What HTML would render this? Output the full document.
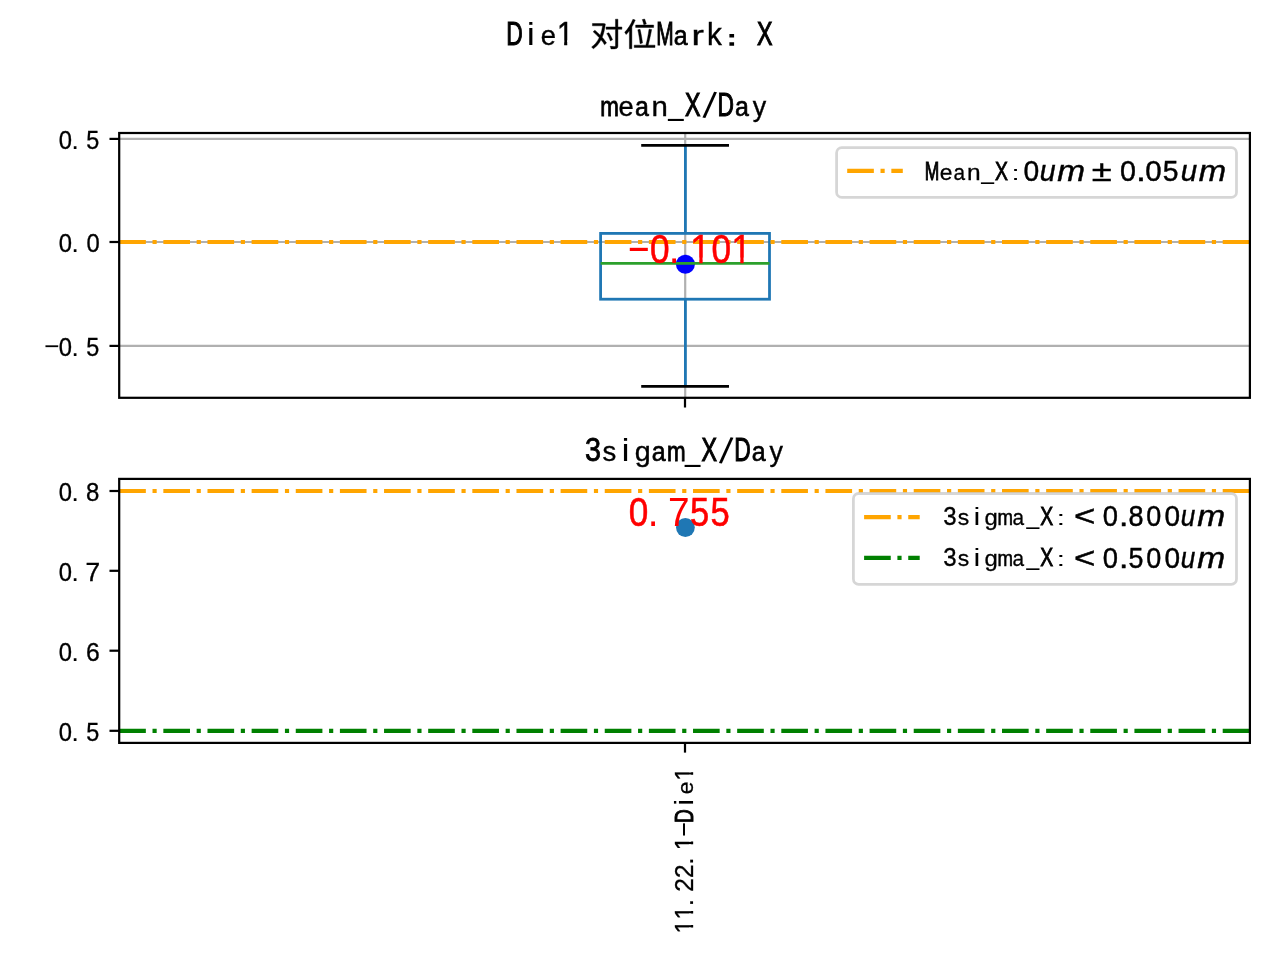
<!DOCTYPE html>
<html lang="zh">
<head>
<meta charset="utf-8">
<title>Die1 对位Mark：X</title>
<style>
html,body{margin:0;padding:0;background:#fff;}
body{width:1280px;height:960px;overflow:hidden;font-family:"Liberation Sans",sans-serif;}
svg{display:block;will-change:transform;}
</style>
</head>
<body>
<svg width="1280" height="960" viewBox="0 0 1280 960">
<rect x="0" y="0" width="1280" height="960" fill="#fff"/>
<defs><clipPath id="nofoot"><path clip-rule="evenodd" d="M0 0H1280V960H0ZM557.61 40.16H564.17V46.4H557.61ZM567.21 40.16H573.55V46.4H567.21ZM688.95 927.46H694.7V933.21H688.95ZM688.95 919.39H694.7V924.94H688.95ZM688.95 913.58H694.7V919.32H688.95ZM688.95 905.5H694.7V911.06H688.95ZM688.95 844.13H694.7V849.88H688.95ZM688.95 836.06H694.7V841.61H688.95ZM688.95 774.69H694.7V780.43H688.95ZM688.95 766.61H694.7V772.17H688.95ZM691.39 257.47H699.32V264.3H691.39ZM702.61 257.47H710.26V264.3H702.61ZM732.39 257.47H740.32V264.3H732.39ZM743.61 257.47H751.26V264.3H743.61Z"/></clipPath></defs>
<g stroke="#b0b0b0" stroke-width="2.22" fill="none">
<line x1="119.2" y1="138.9" x2="1249.9" y2="138.9"/>
<line x1="119.2" y1="242.0" x2="1249.9" y2="242.0"/>
<line x1="119.2" y1="345.9" x2="1249.9" y2="345.9"/>
<line x1="685.2" y1="133.0" x2="685.2" y2="397.8"/>
</g>
<circle cx="685.4" cy="264.3" r="9.5" fill="#00f"/>
<g fill="none" stroke-width="2.78">
<path stroke="#1f77b4" d="M685.4 233.4V145.4M685.4 299.2V386.4"/>
<rect stroke="#1f77b4" x="600.6" y="233.4" width="168.9" height="65.8"/>
<path stroke="#000" stroke-linecap="square" d="M642.6 145.4H727.6M642.6 386.4H727.6"/>
<path stroke="#2ca02c" d="M600.6 263.4H769.5"/>
</g>
<line x1="119.2" y1="242.0" x2="1249.9" y2="242.0" stroke="#ffa500" stroke-width="4.17" stroke-dasharray="26.65 6.66 4.17 6.66"/>
<rect x="119.2" y="133.0" width="1130.7" height="264.8" fill="none" stroke="#000" stroke-width="2.22"/>
<g stroke="#000" stroke-width="2.22">
<line x1="109.48" y1="138.9" x2="119.2" y2="138.9"/>
<line x1="109.48" y1="242.0" x2="119.2" y2="242.0"/>
<line x1="109.48" y1="345.9" x2="119.2" y2="345.9"/>
<line x1="685.0" y1="397.8" x2="685.0" y2="407.52"/>
</g>
<circle cx="685.4" cy="527.5" r="9.4" fill="#1f77b4"/>
<line x1="119.2" y1="491.0" x2="1249.9" y2="491.0" stroke="#ffa500" stroke-width="4.17" stroke-dasharray="26.65 6.66 4.17 6.66"/>
<line x1="119.2" y1="730.9" x2="1249.9" y2="730.9" stroke="#008000" stroke-width="4.17" stroke-dasharray="26.65 6.66 4.17 6.66"/>
<rect x="119.2" y="478.9" width="1130.7" height="264" fill="none" stroke="#000" stroke-width="2.22"/>
<g stroke="#000" stroke-width="2.22">
<line x1="109.48" y1="491.0" x2="119.2" y2="491.0"/>
<line x1="109.48" y1="570.8" x2="119.2" y2="570.8"/>
<line x1="109.48" y1="650.7" x2="119.2" y2="650.7"/>
<line x1="109.48" y1="730.8" x2="119.2" y2="730.8"/>
<line x1="685.0" y1="742.9" x2="685.0" y2="752.62"/>
</g>
<rect x="836.6" y="147.6" width="399.9" height="49.8" rx="5.2" ry="5.2" fill="#fff" fill-opacity="0.8" stroke="#ccc" stroke-opacity="0.8" stroke-width="2.78"/>
<line x1="847.2" y1="170.8" x2="902.8" y2="170.8" stroke="#ffa500" stroke-width="4.17" stroke-dasharray="26.65 6.66 4.17 6.66"/>
<rect x="853.4" y="493.5" width="383.1" height="90.8" rx="5.2" ry="5.2" fill="#fff" fill-opacity="0.8" stroke="#ccc" stroke-opacity="0.8" stroke-width="2.78"/>
<line x1="864.1" y1="517.1" x2="919.7" y2="517.1" stroke="#ffa500" stroke-width="4.17" stroke-dasharray="26.65 6.66 4.17 6.66"/>
<line x1="864.1" y1="557.9" x2="919.7" y2="557.9" stroke="#008000" stroke-width="4.17" stroke-dasharray="26.65 6.66 4.17 6.66"/>
<g font-family="'Liberation Sans', sans-serif" stroke-width="0" clip-path="url(#nofoot)">
<text fill="#000" stroke="#000"><tspan x="506.33" y="44.8" textLength="16.46" lengthAdjust="spacingAndGlyphs" font-size="32.7" stroke-width="1.13">D</tspan><tspan x="527.08" y="44.8" textLength="7.58" lengthAdjust="spacingAndGlyphs" font-size="31.42" stroke-width="0.14">i</tspan><tspan x="540.7" y="44.8" textLength="15.21" lengthAdjust="spacingAndGlyphs" font-size="28.4" stroke-width="0.37">e</tspan><tspan x="556.96" y="44.8" textLength="16.43" lengthAdjust="spacingAndGlyphs" font-size="32.7" stroke-width="0.43">1</tspan></text>
<g fill="#000" stroke="#000" stroke-width="13" stroke-linejoin="round"><path transform="matrix(0.03315 0 0 -0.03232 590.108 46.347)" d="M502 394C549 323 594 228 610 168L676 201C660 261 612 353 563 422ZM91 453C152 398 217 333 275 267C215 139 136 42 45 -17C63 -32 86 -60 98 -78C190 -12 268 80 329 203C374 147 411 94 435 49L495 104C466 156 419 218 364 281C410 396 443 533 460 695L411 709L398 706H70V635H378C363 527 339 430 307 344C254 399 198 453 144 500ZM765 840V599H482V527H765V22C765 4 758 -1 741 -2C724 -2 668 -3 605 0C615 -23 626 -58 630 -79C715 -79 766 -77 796 -64C827 -51 839 -28 839 22V527H959V599H839V840Z"/><path transform="matrix(0.03304 0 0 -0.03216 623.444 46.241)" d="M369 658V585H914V658ZM435 509C465 370 495 185 503 80L577 102C567 204 536 384 503 525ZM570 828C589 778 609 712 617 669L692 691C682 734 660 797 641 847ZM326 34V-38H955V34H748C785 168 826 365 853 519L774 532C756 382 716 169 678 34ZM286 836C230 684 136 534 38 437C51 420 73 381 81 363C115 398 148 439 180 484V-78H255V601C294 669 329 742 357 815Z"/></g>
<text fill="#000" stroke="#000"><tspan x="656.19" y="44.8" textLength="17.43" lengthAdjust="spacingAndGlyphs" font-size="32.7" stroke-width="1.13">M</tspan><tspan x="673.81" y="44.8" textLength="13.89" lengthAdjust="spacingAndGlyphs" font-size="28.4" stroke-width="0.68">a</tspan><tspan x="691.47" y="44.8" textLength="12.39" lengthAdjust="spacingAndGlyphs" font-size="28.4" stroke-width="0.37">r</tspan><tspan x="707.1" y="44.8" textLength="14.86" lengthAdjust="spacingAndGlyphs" font-size="31.42" stroke-width="0.41">k</tspan></text>
<path d="M729.4 34h4.7v3.6h-4.7zM729.4 42.2h4.7v3.6h-4.7z" fill="#000"/>
<text fill="#000" stroke="#000"><tspan x="757.02" y="44.8" textLength="15.51" lengthAdjust="spacingAndGlyphs" font-size="32.7" stroke-width="1.13">X</tspan></text>
<text fill="#000" stroke="#000"><tspan x="600.28" y="115.5" textLength="18.63" lengthAdjust="spacingAndGlyphs" font-size="28.14" stroke-width="0.89">m</tspan><tspan x="618.6" y="115.5" textLength="15.21" lengthAdjust="spacingAndGlyphs" font-size="28.14" stroke-width="0.37">e</tspan><tspan x="635.04" y="115.5" textLength="13.89" lengthAdjust="spacingAndGlyphs" font-size="28.14" stroke-width="0.65">a</tspan><tspan x="651.41" y="115.5" textLength="16.36" lengthAdjust="spacingAndGlyphs" font-size="28.14" stroke-width="0.37">n</tspan><tspan x="668.35" y="114.33" textLength="15.28" lengthAdjust="spacingAndGlyphs" font-size="32.41">_</tspan><tspan x="684.91" y="115.5" textLength="15.51" lengthAdjust="spacingAndGlyphs" font-size="32.41" stroke-width="1.13">X</tspan><tspan x="702.41" y="117.18" rotate="9" font-size="37.24">/</tspan><tspan x="717.56" y="115.5" textLength="16.46" lengthAdjust="spacingAndGlyphs" font-size="32.41" stroke-width="1.13">D</tspan><tspan x="735.04" y="115.5" textLength="13.89" lengthAdjust="spacingAndGlyphs" font-size="28.14" stroke-width="0.65">a</tspan><tspan x="752.86" y="115.5" textLength="13.45" lengthAdjust="spacingAndGlyphs" font-size="28.14" stroke-width="0.37">y</tspan></text>
<text fill="#000" stroke="#000"><tspan x="585" y="461.1" textLength="16.03" lengthAdjust="spacingAndGlyphs" font-size="32.7" stroke-width="0.78">3</tspan><tspan x="602.5" y="461.1" textLength="13.76" lengthAdjust="spacingAndGlyphs" font-size="28.4" stroke-width="0.37">s</tspan><tspan x="621.65" y="461.1" textLength="7.58" lengthAdjust="spacingAndGlyphs" font-size="31.42" stroke-width="0.14">i</tspan><tspan x="634.73" y="461.1" textLength="15.95" lengthAdjust="spacingAndGlyphs" font-size="28.4" stroke-width="0.37">g</tspan><tspan x="651.7" y="461.1" textLength="13.89" lengthAdjust="spacingAndGlyphs" font-size="28.4" stroke-width="0.68">a</tspan><tspan x="666.95" y="461.1" textLength="18.63" lengthAdjust="spacingAndGlyphs" font-size="28.4" stroke-width="0.92">m</tspan><tspan x="685.01" y="459.93" textLength="15.28" lengthAdjust="spacingAndGlyphs" font-size="32.7">_</tspan><tspan x="701.57" y="461.1" textLength="15.51" lengthAdjust="spacingAndGlyphs" font-size="32.7" stroke-width="1.13">X</tspan><tspan x="719.07" y="462.78" rotate="9" font-size="37.24">/</tspan><tspan x="734.23" y="461.1" textLength="16.46" lengthAdjust="spacingAndGlyphs" font-size="32.7" stroke-width="1.13">D</tspan><tspan x="751.7" y="461.1" textLength="13.89" lengthAdjust="spacingAndGlyphs" font-size="28.4" stroke-width="0.68">a</tspan><tspan x="769.53" y="461.1" textLength="13.45" lengthAdjust="spacingAndGlyphs" font-size="28.4" stroke-width="0.37">y</tspan></text>
<text fill="#000" stroke="#000"><tspan x="58.84" y="148.7" textLength="13.25" lengthAdjust="spacingAndGlyphs" font-size="25.73" stroke-width="0.34">0</tspan><tspan x="71.62" y="148.7" textLength="7.29" lengthAdjust="spacingAndGlyphs" font-size="25.73" stroke-width="0.12">.</tspan><tspan x="86.36" y="148.7" textLength="13.03" lengthAdjust="spacingAndGlyphs" font-size="25.73" stroke-width="0.34">5</tspan></text>
<text fill="#000" stroke="#000"><tspan x="58.84" y="251.8" textLength="13.25" lengthAdjust="spacingAndGlyphs" font-size="25.73" stroke-width="0.34">0</tspan><tspan x="71.62" y="251.8" textLength="7.29" lengthAdjust="spacingAndGlyphs" font-size="25.73" stroke-width="0.12">.</tspan><tspan x="86.62" y="251.8" textLength="13.25" lengthAdjust="spacingAndGlyphs" font-size="25.73" stroke-width="0.34">0</tspan></text>
<text fill="#000" stroke="#000"><tspan x="44" y="354.87" textLength="15.36" lengthAdjust="spacingAndGlyphs" font-size="25.73">−</tspan><tspan x="58.84" y="355.7" textLength="13.25" lengthAdjust="spacingAndGlyphs" font-size="25.73" stroke-width="0.34">0</tspan><tspan x="71.62" y="355.7" textLength="7.29" lengthAdjust="spacingAndGlyphs" font-size="25.73" stroke-width="0.12">.</tspan><tspan x="86.36" y="355.7" textLength="13.03" lengthAdjust="spacingAndGlyphs" font-size="25.73" stroke-width="0.34">5</tspan></text>
<text fill="#000" stroke="#000"><tspan x="58.84" y="500.8" textLength="13.25" lengthAdjust="spacingAndGlyphs" font-size="25.73" stroke-width="0.34">0</tspan><tspan x="71.62" y="500.8" textLength="7.29" lengthAdjust="spacingAndGlyphs" font-size="25.73" stroke-width="0.12">.</tspan><tspan x="86.12" y="500.8" textLength="13.33" lengthAdjust="spacingAndGlyphs" font-size="25.73" stroke-width="0.34">8</tspan></text>
<text fill="#000" stroke="#000"><tspan x="58.84" y="580.6" textLength="13.25" lengthAdjust="spacingAndGlyphs" font-size="25.73" stroke-width="0.34">0</tspan><tspan x="71.62" y="580.6" textLength="7.29" lengthAdjust="spacingAndGlyphs" font-size="25.73" stroke-width="0.12">.</tspan><tspan x="85.4" y="580.6" textLength="14.61" lengthAdjust="spacingAndGlyphs" font-size="25.73" stroke-width="0.34">7</tspan></text>
<text fill="#000" stroke="#000"><tspan x="58.84" y="660.5" textLength="13.25" lengthAdjust="spacingAndGlyphs" font-size="25.73" stroke-width="0.34">0</tspan><tspan x="71.62" y="660.5" textLength="7.29" lengthAdjust="spacingAndGlyphs" font-size="25.73" stroke-width="0.12">.</tspan><tspan x="86.05" y="660.5" textLength="13.73" lengthAdjust="spacingAndGlyphs" font-size="25.73" stroke-width="0.34">6</tspan></text>
<text fill="#000" stroke="#000"><tspan x="58.84" y="740.6" textLength="13.25" lengthAdjust="spacingAndGlyphs" font-size="25.73" stroke-width="0.34">0</tspan><tspan x="71.62" y="740.6" textLength="7.29" lengthAdjust="spacingAndGlyphs" font-size="25.73" stroke-width="0.12">.</tspan><tspan x="86.36" y="740.6" textLength="13.03" lengthAdjust="spacingAndGlyphs" font-size="25.73" stroke-width="0.34">5</tspan></text>
<g transform="translate(693.1 933.7) rotate(-90)"><text fill="#000" stroke="#000"><tspan x="0.21" y="0" textLength="13.7" lengthAdjust="spacingAndGlyphs" font-size="26.16" stroke-width="0.34">1</tspan><tspan x="14.1" y="0" textLength="13.7" lengthAdjust="spacingAndGlyphs" font-size="26.16" stroke-width="0.34">1</tspan><tspan x="27.38" y="0" textLength="7.29" lengthAdjust="spacingAndGlyphs" font-size="26.16" stroke-width="0.12">.</tspan><tspan x="41.83" y="0" textLength="13.56" lengthAdjust="spacingAndGlyphs" font-size="26.16" stroke-width="0.34">2</tspan><tspan x="55.72" y="0" textLength="13.56" lengthAdjust="spacingAndGlyphs" font-size="26.16" stroke-width="0.34">2</tspan><tspan x="69.05" y="0" textLength="7.29" lengthAdjust="spacingAndGlyphs" font-size="26.16" stroke-width="0.12">.</tspan><tspan x="83.55" y="0" textLength="13.7" lengthAdjust="spacingAndGlyphs" font-size="26.16" stroke-width="0.34">1</tspan><tspan x="95.94" y="-2.17" textLength="16.67" lengthAdjust="spacingAndGlyphs" font-size="26.16">-</tspan><tspan x="110.8" y="0" textLength="13.72" lengthAdjust="spacingAndGlyphs" font-size="26.16" stroke-width="0.99">D</tspan><tspan x="128.1" y="0" textLength="6.32" lengthAdjust="spacingAndGlyphs" font-size="25.14" stroke-width="0.12">i</tspan><tspan x="139.45" y="0" textLength="12.68" lengthAdjust="spacingAndGlyphs" font-size="22.72" stroke-width="0.3">e</tspan><tspan x="152.99" y="0" textLength="13.7" lengthAdjust="spacingAndGlyphs" font-size="26.16" stroke-width="0.34">1</tspan></text></g>
<text fill="#000" stroke="#000"><tspan x="924.87" y="179.6" textLength="14.53" lengthAdjust="spacingAndGlyphs" font-size="25.58" stroke-width="1.04">M</tspan><tspan x="939.75" y="179.6" textLength="12.68" lengthAdjust="spacingAndGlyphs" font-size="22.21" stroke-width="0.29">e</tspan><tspan x="953.44" y="179.6" textLength="11.58" lengthAdjust="spacingAndGlyphs" font-size="22.21" stroke-width="0.29">a</tspan><tspan x="967.09" y="179.6" textLength="13.64" lengthAdjust="spacingAndGlyphs" font-size="22.21" stroke-width="0.29">n</tspan><tspan x="981.2" y="178.63" textLength="12.73" lengthAdjust="spacingAndGlyphs" font-size="25.58">_</tspan><tspan x="995" y="179.6" textLength="12.93" lengthAdjust="spacingAndGlyphs" font-size="25.58" stroke-width="0.89">X</tspan><tspan x="1011.53" y="179.6" textLength="8.11" lengthAdjust="spacingAndGlyphs" font-size="20.98" stroke-width="0.1">:</tspan></text>
<text fill="#000" stroke="#000" stroke-width="0.45"><tspan x="1023.5" y="180.6" textLength="15.71" lengthAdjust="spacingAndGlyphs" font-size="29.51">0</tspan><tspan x="1039.7" y="180.6" textLength="15.87" lengthAdjust="spacingAndGlyphs" font-size="29.34" font-style="italic">u</tspan><tspan x="1057.25" y="180.6" textLength="27.8" lengthAdjust="spacingAndGlyphs" font-size="29.34" font-style="italic">m</tspan><tspan x="1091.84" y="180.6" textLength="19.99" lengthAdjust="spacingAndGlyphs" font-size="29.51">±</tspan><tspan x="1119.88" y="180.6" textLength="15.94" lengthAdjust="spacingAndGlyphs" font-size="29.51">0</tspan><tspan x="1136.14" y="180.6" textLength="9.92" lengthAdjust="spacingAndGlyphs" font-size="29.51">.</tspan><tspan x="1145.35" y="180.6" textLength="16.4" lengthAdjust="spacingAndGlyphs" font-size="29.51">0</tspan><tspan x="1162.87" y="180.6" textLength="15.72" lengthAdjust="spacingAndGlyphs" font-size="29.51">5</tspan><tspan x="1180.76" y="180.6" textLength="16.43" lengthAdjust="spacingAndGlyphs" font-size="29.34" font-style="italic">u</tspan><tspan x="1198.85" y="180.6" textLength="27.37" lengthAdjust="spacingAndGlyphs" font-size="29.34" font-style="italic">m</tspan></text>
<text fill="#000" stroke="#000"><tspan x="943.14" y="525.2" textLength="13.36" lengthAdjust="spacingAndGlyphs" font-size="25.58" stroke-width="0.34">3</tspan><tspan x="957.72" y="525.2" textLength="11.47" lengthAdjust="spacingAndGlyphs" font-size="22.21" stroke-width="0.29">s</tspan><tspan x="973.68" y="525.2" textLength="6.32" lengthAdjust="spacingAndGlyphs" font-size="24.58" stroke-width="0.11">i</tspan><tspan x="984.57" y="525.2" textLength="13.29" lengthAdjust="spacingAndGlyphs" font-size="22.21" stroke-width="0.29">g</tspan><tspan x="997.54" y="525.2" textLength="15.52" lengthAdjust="spacingAndGlyphs" font-size="22.21" stroke-width="0.61">m</tspan><tspan x="1012.61" y="525.2" textLength="11.58" lengthAdjust="spacingAndGlyphs" font-size="22.21" stroke-width="0.29">a</tspan><tspan x="1026.48" y="524.23" textLength="12.73" lengthAdjust="spacingAndGlyphs" font-size="25.58">_</tspan><tspan x="1040.28" y="525.2" textLength="12.93" lengthAdjust="spacingAndGlyphs" font-size="25.58" stroke-width="0.89">X</tspan><tspan x="1056.8" y="525.2" textLength="8.11" lengthAdjust="spacingAndGlyphs" font-size="20.98" stroke-width="0.1">:</tspan></text>
<text fill="#000" stroke="#000" stroke-width="0.45"><tspan x="1073.99" y="526.4" textLength="21.4" lengthAdjust="spacingAndGlyphs" font-size="29.51">&lt;</tspan><tspan x="1102.83" y="526.4" textLength="15.24" lengthAdjust="spacingAndGlyphs" font-size="29.51">0</tspan><tspan x="1119.13" y="526.4" textLength="9.34" lengthAdjust="spacingAndGlyphs" font-size="29.51">.</tspan><tspan x="1128.42" y="526.4" textLength="15.05" lengthAdjust="spacingAndGlyphs" font-size="29.51">8</tspan><tspan x="1146.35" y="526.4" textLength="15.01" lengthAdjust="spacingAndGlyphs" font-size="29.51">0</tspan><tspan x="1164.41" y="526.4" textLength="15.59" lengthAdjust="spacingAndGlyphs" font-size="29.51">0</tspan><tspan x="1180.7" y="526.4" textLength="14.52" lengthAdjust="spacingAndGlyphs" font-size="29.34" font-style="italic">u</tspan><tspan x="1197.24" y="526.4" textLength="27.91" lengthAdjust="spacingAndGlyphs" font-size="29.34" font-style="italic">m</tspan></text>
<text fill="#000" stroke="#000"><tspan x="943.14" y="566" textLength="13.36" lengthAdjust="spacingAndGlyphs" font-size="25.58" stroke-width="0.34">3</tspan><tspan x="957.72" y="566" textLength="11.47" lengthAdjust="spacingAndGlyphs" font-size="22.21" stroke-width="0.29">s</tspan><tspan x="973.68" y="566" textLength="6.32" lengthAdjust="spacingAndGlyphs" font-size="24.58" stroke-width="0.11">i</tspan><tspan x="984.57" y="566" textLength="13.29" lengthAdjust="spacingAndGlyphs" font-size="22.21" stroke-width="0.29">g</tspan><tspan x="997.54" y="566" textLength="15.52" lengthAdjust="spacingAndGlyphs" font-size="22.21" stroke-width="0.61">m</tspan><tspan x="1012.61" y="566" textLength="11.58" lengthAdjust="spacingAndGlyphs" font-size="22.21" stroke-width="0.29">a</tspan><tspan x="1026.48" y="565.03" textLength="12.73" lengthAdjust="spacingAndGlyphs" font-size="25.58">_</tspan><tspan x="1040.28" y="566" textLength="12.93" lengthAdjust="spacingAndGlyphs" font-size="25.58" stroke-width="0.89">X</tspan><tspan x="1056.8" y="566" textLength="8.11" lengthAdjust="spacingAndGlyphs" font-size="20.98" stroke-width="0.1">:</tspan></text>
<text fill="#000" stroke="#000" stroke-width="0.45"><tspan x="1073.99" y="567.7" textLength="21.4" lengthAdjust="spacingAndGlyphs" font-size="29.51">&lt;</tspan><tspan x="1102.83" y="567.7" textLength="15.24" lengthAdjust="spacingAndGlyphs" font-size="29.51">0</tspan><tspan x="1119.13" y="567.7" textLength="9.34" lengthAdjust="spacingAndGlyphs" font-size="29.51">.</tspan><tspan x="1128.53" y="567.7" textLength="14.9" lengthAdjust="spacingAndGlyphs" font-size="29.51">5</tspan><tspan x="1146.35" y="567.7" textLength="15.01" lengthAdjust="spacingAndGlyphs" font-size="29.51">0</tspan><tspan x="1164.41" y="567.7" textLength="15.59" lengthAdjust="spacingAndGlyphs" font-size="29.51">0</tspan><tspan x="1180.7" y="567.7" textLength="14.52" lengthAdjust="spacingAndGlyphs" font-size="29.34" font-style="italic">u</tspan><tspan x="1197.24" y="567.7" textLength="27.91" lengthAdjust="spacingAndGlyphs" font-size="29.34" font-style="italic">m</tspan></text>
<text fill="#f00" stroke="#f00"><tspan x="626.51" y="259.5" textLength="24.61" lengthAdjust="spacingAndGlyphs" font-size="40.55">-</tspan><tspan x="649.95" y="262.7" textLength="19.56" lengthAdjust="spacingAndGlyphs" font-size="40.55" stroke-width="0.56">0</tspan><tspan x="668.81" y="262.7" textLength="10.77" lengthAdjust="spacingAndGlyphs" font-size="40.55" stroke-width="0.03">.</tspan><tspan x="690.22" y="262.7" textLength="20.21" lengthAdjust="spacingAndGlyphs" font-size="40.55" stroke-width="0.46">1</tspan><tspan x="711.45" y="262.7" textLength="19.56" lengthAdjust="spacingAndGlyphs" font-size="40.55" stroke-width="0.56">0</tspan><tspan x="731.22" y="262.7" textLength="20.21" lengthAdjust="spacingAndGlyphs" font-size="40.55" stroke-width="0.46">1</tspan></text>
<text fill="#f00" stroke="#f00"><tspan x="628.85" y="525.6" textLength="19.56" lengthAdjust="spacingAndGlyphs" font-size="40.41" stroke-width="0.55">0</tspan><tspan x="647.71" y="525.6" textLength="10.77" lengthAdjust="spacingAndGlyphs" font-size="40.41" stroke-width="0.03">.</tspan><tspan x="668.04" y="525.6" textLength="21.57" lengthAdjust="spacingAndGlyphs" font-size="40.41" stroke-width="0.08">7</tspan><tspan x="689.97" y="525.6" textLength="19.24" lengthAdjust="spacingAndGlyphs" font-size="40.41" stroke-width="0.6">5</tspan><tspan x="710.47" y="525.6" textLength="19.24" lengthAdjust="spacingAndGlyphs" font-size="40.41" stroke-width="0.6">5</tspan></text>
</g>
</svg>
</body>
</html>
